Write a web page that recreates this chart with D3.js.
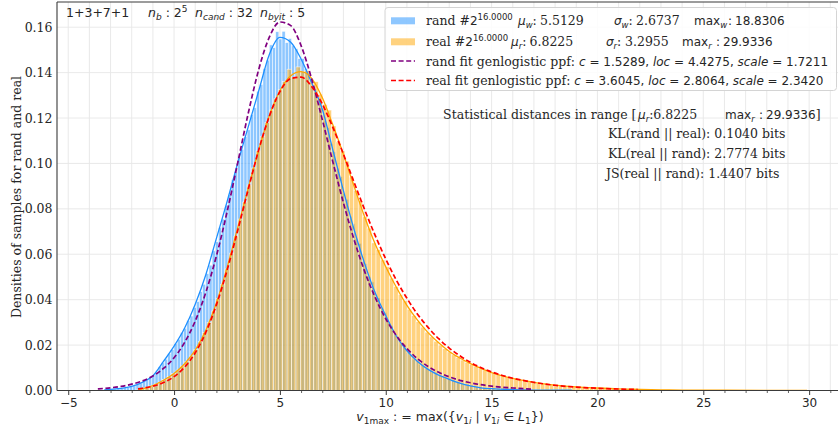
<!DOCTYPE html>
<html>
<head>
<meta charset="utf-8">
<script src="https://cdn.jsdelivr.net/npm/d3@7"></script>
<style>
  html, body { margin: 0; padding: 0; background: #fff; }
  svg text { white-space: pre; }
</style>
</head>
<body>
<div id="chart"></div>
<script>
/* Data -------------------------------------------------------------------- */

// Histogram of the rand samples (density per bin)
const randBinStart = -3.6;
const randBinWidth = 0.15;
const randHist = [
  0.0002, 0.0003, 0.0003, 0.0004, 0.0005, 0.0006, 0.0008, 0.0010, 0.0012, 0.0014,
  0.0017, 0.0021, 0.0026, 0.0032, 0.0039, 0.0047, 0.0056, 0.0068, 0.0080, 0.0105,
  0.0122, 0.0138, 0.0162, 0.0180, 0.0207, 0.0226, 0.0255, 0.0274, 0.0308, 0.0328,
  0.0366, 0.0392, 0.0435, 0.0468, 0.0515, 0.0552, 0.0615, 0.0655, 0.0718, 0.0755,
  0.0815, 0.0862, 0.0928, 0.0962, 0.1025, 0.1062, 0.1118, 0.1148, 0.1215, 0.1245,
  0.1318, 0.1348, 0.1418, 0.1455, 0.1522, 0.1510, 0.1580, 0.1548, 0.1582, 0.1532,
  0.1550, 0.1518, 0.1505, 0.1462, 0.1462, 0.1418, 0.1395, 0.1342, 0.1318, 0.1268,
  0.1245, 0.1188, 0.1158, 0.1088, 0.1052, 0.0978, 0.0942, 0.0868, 0.0842, 0.0768,
  0.0735, 0.0668, 0.0648, 0.0582, 0.0558, 0.0502, 0.0478, 0.0422, 0.0408, 0.0362,
  0.0345, 0.0302, 0.0285, 0.0248, 0.0235, 0.0205, 0.0192, 0.0168, 0.0158, 0.0138,
  0.0132, 0.0115, 0.0110, 0.0096, 0.0091, 0.0080, 0.0076, 0.0066, 0.0063, 0.0054,
  0.0052, 0.0044, 0.0042, 0.0036, 0.0034, 0.0028, 0.0026, 0.0021, 0.0020, 0.0016,
  0.0015, 0.0012, 0.0011, 0.0009, 0.0008, 0.0007, 0.0006, 0.0005, 0.0005, 0.0004,
  0.0004, 0.0003, 0.0003, 0.0002, 0.0002, 0.0002, 0.0002, 0.0001, 0.0001, 0.0001,
  0.0001, 0.0000, 0.0001, 0.0000, 0.0001, 0.0000, 0.0000, 0.0000, 0.0000, 0.0001
];

// Histogram of the real samples (density per bin)
const realBinStart = -1.8;
const realBinWidth = 0.21;
const realHist = [
  0.0003, 0.0007, 0.0013, 0.0020, 0.0028, 0.0037, 0.0048, 0.0061, 0.0075, 0.0090,
  0.0108, 0.0128, 0.0152, 0.0180, 0.0215, 0.0255, 0.0300, 0.0350, 0.0405, 0.0468,
  0.0535, 0.0605, 0.0680, 0.0755, 0.0830, 0.0905, 0.0980, 0.1055, 0.1120, 0.1180,
  0.1235, 0.1285, 0.1325, 0.1360, 0.1415, 0.1380, 0.1425, 0.1405, 0.1410, 0.1370,
  0.1360, 0.1305, 0.1260, 0.1235, 0.1165, 0.1095, 0.1055, 0.1010, 0.0940, 0.0880,
  0.0835, 0.0765, 0.0715, 0.0650, 0.0620, 0.0575, 0.0545, 0.0495, 0.0458, 0.0422,
  0.0395, 0.0358, 0.0330, 0.0303, 0.0279, 0.0257, 0.0236, 0.0217, 0.0200, 0.0184,
  0.0170, 0.0157, 0.0145, 0.0134, 0.0124, 0.0115, 0.0106, 0.0098, 0.0090, 0.0083,
  0.0077, 0.0071, 0.0065, 0.0060, 0.0055, 0.0051, 0.0047, 0.0043, 0.0040, 0.0036,
  0.0033, 0.0031, 0.0028, 0.0026, 0.0024, 0.0022, 0.0020, 0.0018, 0.0017, 0.0015,
  0.0014, 0.0013, 0.0012, 0.0011, 0.0010, 0.0009, 0.0008, 0.0008, 0.0007, 0.0006,
  0.0006, 0.0005, 0.0005, 0.0004, 0.0004, 0.0004, 0.0003, 0.0003, 0.0003, 0.0003,
  0.0002, 0.0002, 0.0002, 0.0002, 0.0001, 0.0001, 0.0001, 0.0001, 0.0001, 0.0001,
  0.0001, 0.0001, 0.0001, 0.0001, 0.0001, 0.0001, 0.0001, 0.0000, 0.0001, 0.0000,
  0.0001, 0.0000, 0.0000, 0.0001, 0.0000, 0.0000, 0.0000, 0.0001, 0.0000, 0.0000,
  0.0001
];

// Smoothed density of the rand samples [value, density]
const randKde = [
  [-3.3, 0.0003], [-3, 0.0005], [-2.5, 0.0009], [-2, 0.0018], [-1.5, 0.0036],
  [-1, 0.0065], [-0.5, 0.0128], [0, 0.0195], [0.5, 0.0275], [1, 0.038],
  [1.5, 0.051], [2, 0.067], [2.5, 0.083], [3, 0.100], [3.5, 0.116],
  [4, 0.132], [4.5, 0.148], [5, 0.1555], [5.5, 0.1535], [6, 0.146],
  [6.5, 0.1355], [7, 0.124], [7.5, 0.106], [8, 0.088], [8.5, 0.071],
  [9, 0.056], [9.5, 0.043], [10, 0.033], [10.5, 0.024], [11, 0.0175],
  [11.5, 0.0128], [12, 0.0093], [12.5, 0.0068], [13, 0.0049], [13.5, 0.0032],
  [14, 0.002], [14.5, 0.0012], [15, 0.0008], [16, 0.0004], [17, 0.0002],
  [18, 0.0001], [18.8, 0.0001]
];

// Smoothed density of the real samples [value, density]
const realKde = [
  [-1.7, 0.0003], [-1.5, 0.0007], [-1, 0.0022], [-0.5, 0.0045], [0, 0.0075],
  [0.5, 0.0118], [1, 0.0178], [1.5, 0.0265], [2, 0.0385], [2.5, 0.054],
  [3, 0.0715], [3.5, 0.089], [4, 0.106], [4.5, 0.121], [5, 0.132],
  [5.5, 0.1385], [6, 0.1404], [6.5, 0.1375], [7, 0.129], [7.5, 0.117],
  [8, 0.104], [8.5, 0.090], [9, 0.0765], [9.5, 0.0645], [10, 0.0545],
  [10.5, 0.0455], [11, 0.0375], [11.5, 0.031], [12, 0.0255], [12.5, 0.021],
  [13, 0.0172], [13.5, 0.0143], [14, 0.0118], [15, 0.0079], [16, 0.0053],
  [17, 0.0036], [18, 0.0024], [19, 0.0016], [20, 0.0011], [21, 0.0007],
  [22, 0.0005], [23, 0.0003], [24, 0.0002], [26, 0.0001], [28, 0.00005],
  [29.9, 0.00003]
];

// Fitted genlogistic curve for rand [value, density]
const randFit = [
  [-3.6, 0.0007], [-3, 0.0012], [-2.5, 0.0018], [-2, 0.0028], [-1.5, 0.0042],
  [-1, 0.0064], [-0.5, 0.0097], [0, 0.0144], [0.5, 0.0212], [1, 0.0306],
  [1.5, 0.0432], [2, 0.0592], [2.5, 0.0785], [3, 0.100], [3.5, 0.1219],
  [4, 0.1414], [4.5, 0.1556], [5, 0.1623], [5.5, 0.1608], [6, 0.1519],
  [6.5, 0.1372], [7, 0.1194], [7.5, 0.1007], [8, 0.0827], [8.5, 0.0665],
  [9, 0.0525], [9.5, 0.041], [10, 0.0316], [10.5, 0.0242], [11, 0.0185],
  [11.5, 0.014], [12, 0.0106], [12.5, 0.008], [13, 0.006], [14, 0.0034],
  [15, 0.0019], [16, 0.0011], [16.9, 0.0006]
];

// Fitted genlogistic curve for real [value, density]
const realFit = [
  [-1.7, 0.0007], [-1.5, 0.0010], [-1, 0.0019], [-0.5, 0.0035], [0, 0.0061],
  [0.5, 0.0103], [1, 0.0166], [1.5, 0.0256], [2, 0.0377], [2.5, 0.0528],
  [3, 0.0702], [3.5, 0.0885], [4, 0.106], [4.5, 0.1208], [5, 0.1316],
  [5.5, 0.1373], [6, 0.138], [6.5, 0.1339], [7, 0.1262], [7.5, 0.1159],
  [8, 0.1041], [8.5, 0.0918], [9, 0.0797], [9.5, 0.0683], [10, 0.0579],
  [10.5, 0.0486], [11, 0.0406], [11.5, 0.0336], [12, 0.0278], [12.5, 0.0228],
  [13, 0.0187], [13.5, 0.0153], [14, 0.0124], [15, 0.0082], [16, 0.0054],
  [17, 0.0036], [18, 0.0023], [19, 0.0015], [20, 0.001], [21, 0.00065],
  [21.9, 0.00045]
];

// Axis ticks
const xTicks = [-5, 0, 5, 10, 15, 20, 25, 30];
const xMinorTicks = d3.range(-5, 32, 1);
const yTicks = [0, 0.02, 0.04, 0.06, 0.08, 0.10, 0.12, 0.14, 0.16];

/* Styles ------------------------------------------------------------------ */

const SERIF = "'DejaVu Serif', serif";
const SANS = "'DejaVu Sans', sans-serif";
const FONT_SIZE = 12.5;

const colors = {
    rand: "#1e90ff",
    real: "#ffa500",
    randFit: "#800080",
    realFit: "#ff0000",
    grid: "#e6e6e6",
    spine: "#3a3a3a",
    text: "#262626"
};

/* Helpers ----------------------------------------------------------------- */

// Draw text made of serif / sans / italic / sub / sup pieces,
// a piece may carry its own absolute x
function richText(parent, x, y, segs, opts = {}) {
    const mathSize = opts.mathSize || FONT_SIZE;
    const smallSize = opts.smallSize || 9;
    const t = parent.append("text")
        .attr("x", x)
        .attr("y", y)
        .attr("xml:space", "preserve")
        .attr("text-anchor", opts.anchor || "start")
        .style("font-size", `${FONT_SIZE}px`)
        .style("fill", colors.text);
    let shift = 0;
    segs.forEach(s => {
        const target = s.s === "sub" ? 3.2 : s.s === "sup" ? -5 : 0;
        const size = s.s ? smallSize : (s.f === "sans" ? mathSize : FONT_SIZE);
        const span = t.append("tspan")
            .attr("dy", target - shift)
            .style("font-family", s.f === "sans" ? SANS : SERIF)
            .style("font-style", s.i ? "italic" : "normal")
            .style("font-size", `${size}px`)
            .text(s.t);
        if (s.x !== undefined) span.attr("x", s.x);
        shift = target;
    });
    return t;
}

/* Draw graphic ------------------------------------------------------------ */

const width = 838, height = 436;
const plot = { left: 57, top: 2, bottom: 390.5 };

const x = d3.scaleLinear().domain([-5.53, 31.6]).range([57, 843]);
const y = d3.scaleLinear().domain([0, 0.1711]).range([plot.bottom, plot.top]);

const svg = d3.select("#chart").append("svg")
    .attr("width", width)
    .attr("height", height);

svg.append("rect")
    .attr("width", width).attr("height", height)
    .attr("fill", "#fff");

svg.append("clipPath").attr("id", "plot-clip")
    .append("rect")
    .attr("x", plot.left).attr("y", plot.top)
    .attr("width", width - plot.left).attr("height", plot.bottom - plot.top);

// Gridlines
const grid = svg.append("g").attr("clip-path", "url(#plot-clip)");

grid.selectAll(".vgrid")
    .data(xMinorTicks)
    .join("line")
    .attr("x1", d => x(d)).attr("x2", d => x(d))
    .attr("y1", plot.top).attr("y2", plot.bottom)
    .attr("stroke", colors.grid)
    .attr("stroke-width", 0.9);

grid.selectAll(".hgrid")
    .data(yTicks)
    .join("line")
    .attr("x1", plot.left).attr("x2", width)
    .attr("y1", d => y(d)).attr("y2", d => y(d))
    .attr("stroke", colors.grid)
    .attr("stroke-width", 0.9);

// Histograms
const marks = svg.append("g").attr("clip-path", "url(#plot-clip)");

function drawHist(values, start, binWidth, color) {
    marks.append("g")
        .selectAll("rect")
        .data(values)
        .join("rect")
        .attr("x", (d, i) => x(start + i * binWidth))
        .attr("width", x(binWidth) - x(0))
        .attr("y", d => y(d))
        .attr("height", d => y(0) - y(d))
        .attr("fill", color)
        .attr("fill-opacity", 0.5)
        .attr("stroke", "#fff")
        .attr("stroke-opacity", 0.85)
        .attr("stroke-width", 0.6);
}

drawHist(randHist, randBinStart, randBinWidth, colors.rand);
drawHist(realHist, realBinStart, realBinWidth, colors.real);

// Curves
const line = d3.line()
    .x(d => x(d[0]))
    .y(d => y(d[1]))
    .curve(d3.curveMonotoneX);

marks.append("path").datum(randKde)
    .attr("d", line).attr("fill", "none")
    .attr("stroke", colors.rand).attr("stroke-width", 1.3);

marks.append("path").datum(realKde)
    .attr("d", line).attr("fill", "none")
    .attr("stroke", colors.real).attr("stroke-width", 1.3);

marks.append("path").datum(randFit)
    .attr("d", line).attr("fill", "none")
    .attr("stroke", colors.randFit).attr("stroke-width", 1.7)
    .attr("stroke-dasharray", "5,2.6");

marks.append("path").datum(realFit)
    .attr("d", line).attr("fill", "none")
    .attr("stroke", colors.realFit).attr("stroke-width", 1.7)
    .attr("stroke-dasharray", "5,2.6");

// Spines
svg.append("line")
    .attr("x1", plot.left).attr("x2", plot.left)
    .attr("y1", plot.top).attr("y2", plot.bottom)
    .attr("stroke", colors.spine).attr("stroke-width", 1.1);
svg.append("line")
    .attr("x1", plot.left).attr("x2", width)
    .attr("y1", plot.bottom).attr("y2", plot.bottom)
    .attr("stroke", colors.spine).attr("stroke-width", 1.1);
svg.append("line")
    .attr("x1", plot.left).attr("x2", width)
    .attr("y1", plot.top).attr("y2", plot.top)
    .attr("stroke", colors.spine).attr("stroke-width", 1.1);

// X-axis
const xAxis = svg.append("g")
    .attr("transform", `translate(0,${plot.bottom})`)
    .call(d3.axisBottom(x).tickValues(xTicks).tickSize(4.5).tickPadding(3.5));

xAxis.select(".domain").remove();
xAxis.selectAll("line").attr("stroke", colors.spine).attr("stroke-width", 1);
xAxis.selectAll("text")
    .style("font-family", SANS)
    .style("font-size", "12px")
    .style("fill", colors.text);

const xMinor = svg.append("g")
    .attr("transform", `translate(0,${plot.bottom})`)
    .call(d3.axisBottom(x).tickValues(xMinorTicks.filter(v => v % 5 !== 0))
        .tickSize(2.5).tickFormat(""));
xMinor.select(".domain").remove();
xMinor.selectAll("line").attr("stroke", colors.spine).attr("stroke-width", 0.8);

// Y-axis
const yAxis = svg.append("g")
    .attr("transform", `translate(${plot.left},0)`)
    .call(d3.axisLeft(y).tickValues(yTicks).tickSize(0).tickPadding(4.5)
        .tickFormat(d3.format(".2f")));

yAxis.select(".domain").remove();
yAxis.selectAll("text")
    .style("font-family", SERIF)
    .style("font-size", `${FONT_SIZE}px`)
    .style("fill", colors.text);

// Axis titles
svg.append("text")
    .attr("transform", "translate(20.5,197) rotate(-90)")
    .attr("text-anchor", "middle")
    .style("font-family", SERIF)
    .style("font-size", `${FONT_SIZE}px`)
    .style("fill", colors.text)
    .text("Densities of samples for rand and real");

richText(svg, 450, 421, [
    { t: "v", f: "sans", i: true },
    { t: "1max", f: "sans", s: "sub" },
    { t: " : = max({", f: "sans" },
    { t: "v", f: "sans", i: true },
    { t: "1", f: "sans", s: "sub" },
    { t: "i", f: "sans", i: true, s: "sub" },
    { t: " | ", f: "sans" },
    { t: "v", f: "sans", i: true },
    { t: "1", f: "sans", s: "sub" },
    { t: "i", f: "sans", i: true, s: "sub" },
    { t: " \u2208 ", f: "sans" },
    { t: "L", f: "sans", i: true },
    { t: "1", f: "sans", s: "sub" },
    { t: "})", f: "sans" }
], { anchor: "middle" });

// Top-left annotation
richText(svg, 66, 17, [{ t: "1+3+7+1", f: "sans" }]);
richText(svg, 148, 17, [
    { t: "n", f: "sans", i: true }, { t: "b", f: "sans", i: true, s: "sub" },
    { t: " : 2", f: "sans" }, { t: "5", f: "sans", s: "sup" }
]);
richText(svg, 195, 17, [
    { t: "n", f: "sans", i: true }, { t: "cand", f: "sans", i: true, s: "sub" },
    { t: " : 32", f: "sans" }
]);
richText(svg, 260, 17, [
    { t: "n", f: "sans", i: true }, { t: "byit", f: "sans", i: true, s: "sub" },
    { t: " : 5", f: "sans" }
]);

/* Legend ------------------------------------------------------------------ */

const legend = svg.append("g");
const legendText = { mathSize: 12, smallSize: 8.5 };

legend.append("rect")
    .attr("x", 385).attr("y", 7.5)
    .attr("width", 451.5).attr("height", 83)
    .attr("rx", 3)
    .attr("fill", "#fff").attr("fill-opacity", 0.85)
    .attr("stroke", "#d4d4d4").attr("stroke-width", 1);

legend.append("rect")
    .attr("x", 391).attr("y", 17.3).attr("width", 24).attr("height", 7)
    .attr("fill", colors.rand).attr("fill-opacity", 0.5);
legend.append("rect")
    .attr("x", 391).attr("y", 38.3).attr("width", 24).attr("height", 7)
    .attr("fill", colors.real).attr("fill-opacity", 0.5);
legend.append("line")
    .attr("x1", 391).attr("x2", 415).attr("y1", 61).attr("y2", 61)
    .attr("stroke", colors.randFit).attr("stroke-width", 1.7)
    .attr("stroke-dasharray", "5,2.6");
legend.append("line")
    .attr("x1", 391).attr("x2", 415).attr("y1", 80.5).attr("y2", 80.5)
    .attr("stroke", colors.realFit).attr("stroke-width", 1.7)
    .attr("stroke-dasharray", "5,2.6");

richText(legend, 426, 25, [
    { t: "rand #" }, { t: "2", f: "sans" }, { t: "16.0000", f: "sans", s: "sup" },
    { t: "\u03bc", f: "sans", i: true, x: 518 }, { t: "w", f: "sans", i: true, s: "sub" },
    { t: ":" }, { t: "5.5129", x: 540 },
    { t: "\u03c3", f: "sans", i: true, x: 614 }, { t: "w", f: "sans", i: true, s: "sub" },
    { t: ":" }, { t: "2.6737", x: 636 },
    { t: "max", f: "sans", x: 694 }, { t: "w", f: "sans", i: true, s: "sub" },
    { t: ":", f: "sans", x: 728 }, { t: "18.8306", f: "sans", x: 735 }
], legendText);
richText(legend, 426, 45.8, [
    { t: "real #" }, { t: "2", f: "sans" }, { t: "16.0000", f: "sans", s: "sup" },
    { t: "\u03bc", f: "sans", i: true, x: 511 }, { t: "r", f: "sans", i: true, s: "sub" },
    { t: ":" }, { t: "6.8225", x: 529.5 },
    { t: "\u03c3", f: "sans", i: true, x: 606 }, { t: "r", f: "sans", i: true, s: "sub" },
    { t: ":" }, { t: "3.2955", x: 625 },
    { t: "max", f: "sans", x: 682 }, { t: "r", f: "sans", i: true, s: "sub" },
    { t: ":", f: "sans", x: 716 }, { t: "29.9336", f: "sans", x: 723 }
], legendText);
richText(legend, 426, 65.8, [
    { t: "rand fit genlogistic ppf: " },
    { t: "c", f: "sans", i: true }, { t: " = 1.5289, ", f: "sans" },
    { t: "loc", f: "sans", i: true }, { t: " = 4.4275, ", f: "sans" },
    { t: "scale", f: "sans", i: true }, { t: " = 1.7211", f: "sans" }
], legendText);
richText(legend, 426, 84.5, [
    { t: "real fit genlogistic ppf: " },
    { t: "c", f: "sans", i: true }, { t: " = 3.6045, ", f: "sans" },
    { t: "loc", f: "sans", i: true }, { t: " = 2.8064, ", f: "sans" },
    { t: "scale", f: "sans", i: true }, { t: " = 2.3420", f: "sans" }
], legendText);

/* Statistical distances --------------------------------------------------- */

richText(svg, 636.5, 119, [{ t: "Statistical distances in range [" }],
    { anchor: "end" });
richText(svg, 638, 119, [
    { t: "\u03bc", f: "sans", i: true }, { t: "r", f: "sans", i: true, s: "sub" },
    { t: ":6.8225" },
    { t: "max", f: "sans", x: 725 }, { t: "r", f: "sans", i: true, s: "sub" },
    { t: ":", f: "sans", x: 759 }, { t: "29.9336", f: "sans", x: 766 }, { t: "]" }
], legendText);
richText(svg, 608, 138.3, [{ t: "KL(rand || real): 0.1040 bits" }]);
richText(svg, 608, 158, [{ t: "KL(real || rand): 2.7774 bits" }]);
richText(svg, 606, 177.6, [{ t: "JS(real || rand): 1.4407 bits" }]);
</script>
</body>
</html>
